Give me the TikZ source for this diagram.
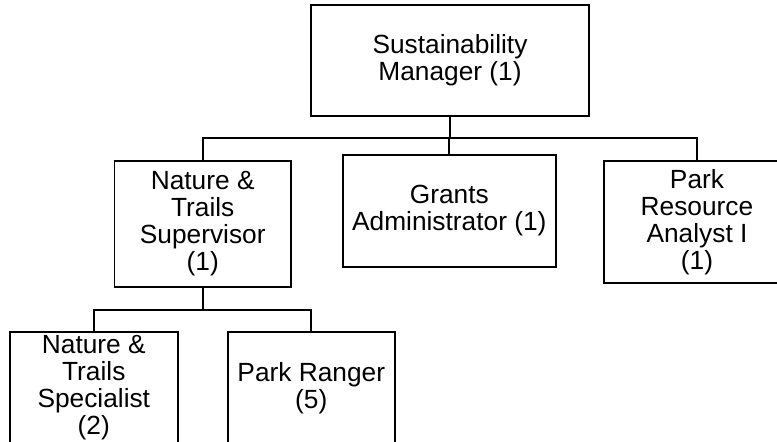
\documentclass[tikz,border=0pt]{standalone}
\usepackage{fontspec}
\setmainfont{Liberation Sans}
\begin{document}
\begin{tikzpicture}[x=1pt,y=1pt,
  role/.style={draw=black, line width=1.8pt, fill=white, inner sep=0pt, align=center,
    font=\fontsize{26.3}{27}\selectfont},
  link/.style={draw=black, line width=1.8pt}]
\useasboundingbox (0,0) rectangle (777,-442);
\clip (0,0) rectangle (777,-442);
\node[role, minimum width=278, minimum height=111] (top) at (450,-60.5) {Sustainability\\Manager (1)};
\node[role, minimum width=176.5, minimum height=126] (sup) at (202.7,-223.7) {Nature \&\\Trails\\Supervisor\\(1)};
\node[role, minimum width=213.3, minimum height=111.4] (grants) at (449.3,-211) {Grants\\Administrator (1)};
\node[role, minimum width=186, minimum height=122] (park) at (697,-221.7) {Park\\Resource\\Analyst I\\(1)};
\node[role, minimum width=167.7, minimum height=112] (spec) at (93.8,-387.7) {Nature \&\\Trails\\Specialist\\(2)};
\node[role, minimum width=167.3, minimum height=112] (ranger) at (311.3,-387.7) {Park Ranger\\(5)};
\coordinate (bus1) at (450,-137.7);
\coordinate (bus2) at (202.7,-310);
\draw[link] (top.south) -- (bus1);
\draw[link] (sup.north) |- (bus1);
\draw[link] (park.north) |- (bus1);
\draw[link] (grants.north) -- (grants.north |- bus1);
\draw[link] (sup.south) -- (bus2);
\draw[link] (spec.north) |- (bus2);
\draw[link] (ranger.north) |- (bus2);
\end{tikzpicture}
\end{document}
